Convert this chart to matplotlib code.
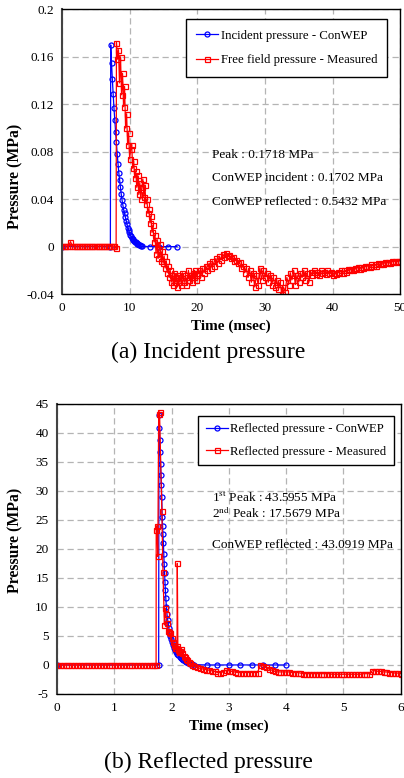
import numpy as np
import matplotlib
matplotlib.use("Agg")
import matplotlib.pyplot as plt

plt.rcParams['font.family'] = ['Liberation Serif', 'DejaVu Serif']
plt.rcParams['mathtext.fontset'] = 'stix'
plt.rcParams['axes.unicode_minus'] = False

# ---------------- (a) incident pressure data ----------------
# ConWEP incident (time in msec, pressure in MPa)
inc_cw_t = [0.0, 7.15] + list(np.linspace(7.2, 11.76, 39)) + [13.05, 14.3, 15.6, 17.0]
inc_cw_p = [0.0, 0.0,
            0.170, 0.155, 0.141, 0.129, 0.117, 0.107, 0.097, 0.088, 0.078, 0.070,
            0.062, 0.056, 0.050, 0.044, 0.039, 0.035, 0.031, 0.028, 0.025, 0.022,
            0.019, 0.016, 0.014, 0.012, 0.010, 0.0088, 0.0076, 0.0065, 0.0056, 0.0048,
            0.0041, 0.0035, 0.0030, 0.0025, 0.0020, 0.0015, 0.0010, 0.0006, 0.0003,
            0.0, 0.0, 0.0, 0.0]

# free field measured, before arrival (0 - 8 msec)
ff_pre_p = [0.0006, 0.0008, 0.0004, 0.0007, 0.0005, 0.0042, 0.0009, 0.0006,
            0.0004, 0.0007, 0.0005, 0.0008, 0.0003, 0.0006, 0.0004, 0.0007,
            0.0005, 0.0003, 0.0006, 0.0004, 0.0007, 0.0005, 0.0003, 0.0006,
            0.0004, 0.0007, 0.0005, 0.0003, 0.0006, 0.0004, 0.0005, 0.0003, -0.0015]
# arrival and decay (8.05 - 19.9 msec)
ff_mid_p = [0.172, 0.158, 0.166, 0.138, 0.160, 0.128, 0.146, 0.118, 0.135, 0.100,
            0.112, 0.086, 0.096, 0.074, 0.082, 0.086, 0.066, 0.072, 0.058, 0.064,
            0.050, 0.060, 0.044, 0.054, 0.040, 0.050, 0.057, 0.042, 0.052, 0.036,
            0.040, 0.028, 0.032, 0.020, 0.026, 0.012, 0.018, 0.004, 0.010, -0.006,
            0.006, -0.010, -0.002, 0.002, -0.012, -0.004, -0.014, -0.008, -0.018, -0.012,
            -0.022, -0.016, -0.026, -0.020, -0.030, -0.024, -0.032, -0.022, -0.030, -0.026,
            -0.034, -0.024, -0.030, -0.026, -0.032, -0.022, -0.028, -0.030, -0.024, -0.032,
            -0.026, -0.020, -0.028, -0.024, -0.030, -0.022, -0.026, -0.020, -0.028, -0.022]
# negative phase (20 - 50 msec)
ff_post_p = [-0.024, -0.020, -0.026, -0.018, -0.022, -0.016, -0.020, -0.014, -0.018, -0.012,
             -0.016, -0.010, -0.014, -0.008, -0.011, -0.006, -0.009, -0.005, -0.008, -0.007,
             -0.010, -0.009, -0.012, -0.011, -0.014, -0.013, -0.018, -0.016, -0.022, -0.018,
             -0.026, -0.020, -0.030, -0.022, -0.034, -0.024, -0.032, -0.018, -0.028, -0.020,
             -0.026, -0.022, -0.030, -0.024, -0.032, -0.026, -0.034, -0.028, -0.036, -0.030,
             -0.040, -0.034, -0.038, -0.026, -0.032, -0.022, -0.028, -0.020, -0.032, -0.024,
             -0.030, -0.022, -0.026, -0.020, -0.028, -0.022, -0.030, -0.021, -0.024, -0.020,
             -0.023, -0.021, -0.024, -0.020, -0.022, -0.021, -0.023, -0.020, -0.022, -0.021,
             -0.024, -0.022, -0.023, -0.021, -0.022, -0.020, -0.022, -0.020, -0.021, -0.019,
             -0.020, -0.019, -0.020, -0.018, -0.019, -0.017, -0.019, -0.017, -0.018, -0.016,
             -0.017, -0.016, -0.017, -0.015, -0.016, -0.015, -0.016, -0.014, -0.015, -0.014,
             -0.015, -0.013, -0.014, -0.013, -0.014, -0.012, -0.013, -0.012, -0.013, -0.012,
             -0.012]

ff_t = (list(np.linspace(0.0, 8.0, len(ff_pre_p)))
        + list(np.linspace(8.05, 19.9, len(ff_mid_p)))
        + list(np.linspace(20.0, 50.0, len(ff_post_p))))
ff_p = ff_pre_p + ff_mid_p + ff_post_p

# ---------------- (b) reflected pressure data ----------------
ref_cw_t = [0.0, 1.775, 1.78, 1.787, 1.794, 1.801, 1.808, 1.815, 1.822, 1.829, 1.836,
            1.843, 1.850, 1.857, 1.864, 1.871, 1.878, 1.885, 1.892, 1.899, 1.910,
            1.921, 1.932, 1.943, 1.954, 1.965, 1.98, 1.995, 2.01, 2.025, 2.04,
            2.06, 2.08, 2.10, 2.12, 2.14, 2.16, 2.18, 2.20, 2.23, 2.26,
            2.29, 2.32, 2.36, 2.40, 2.61, 2.80, 3.0, 3.2, 3.4, 3.6, 3.8, 4.0]
ref_cw_p = [0.0, 0.0, 43.09, 40.8, 38.8, 36.7, 34.6, 32.7, 31.0, 29.0, 25.5,
            24.0, 22.5, 21.0, 19.2, 17.4, 15.8, 14.3, 12.9, 11.6, 10.0,
            8.7, 7.8, 7.0, 6.3, 5.7, 5.0, 4.4, 3.9, 3.4, 3.0,
            2.6, 2.25, 1.95, 1.7, 1.45, 1.25, 1.05, 0.9, 0.7, 0.5,
            0.35, 0.25, 0.12, 0.05, 0.0, 0.0, 0.0, 0.0, 0.0, 0.0, 0.0, 0.0]

ref_pre_p = [0.0] * 35           # 0 - 1.7 msec
ref_hit_t = [1.73, 1.732, 1.745, 1.76, 1.775, 1.79, 1.83, 1.85, 1.875, 1.885,
             1.90, 1.92, 1.94, 1.96, 1.98, 2.00, 2.02, 2.04, 2.06, 2.08,
             2.095, 2.10, 2.11, 2.13, 2.15, 2.17, 2.19, 2.21, 2.23, 2.25,
             2.27, 2.30, 2.33]
ref_hit_p = [0.0, 23.3, 24.0, 18.7, 43.2, 43.6, 26.6, 16.1, 6.9, 9.8,
             8.8, 7.2, 5.9, 5.7, 5.5, 4.6, 4.0, 3.5, 3.0, 2.9,
             3.2, 17.5, 2.6, 2.2, 2.4, 2.7, 2.0, 1.6, 1.3, 1.0,
             0.8, 0.5, 0.3]
# 2.35 - 6.0 msec, every 0.05 msec
ref_post_p = [0.0, -0.2, -0.4, -0.6, -0.7, -0.8, -0.9, -1.0, -1.1, -1.3,
              -1.3, -1.2, -0.9, -1.0, -1.1, -1.2, -1.3, -1.3, -1.3, -1.3,
              -1.3, -1.3, -1.3, -1.3, 0.0, -0.2, -0.4, -0.7, -0.9, -1.1,
              -1.2, -1.2, -1.2, -1.2, -1.2, -1.3, -1.3, -1.3, -1.4, -1.5,
              -1.5, -1.5, -1.5, -1.5, -1.5, -1.5, -1.5, -1.5, -1.5, -1.6,
              -1.6, -1.6, -1.6, -1.6, -1.6, -1.6, -1.6, -1.6, -1.6, -1.6,
              -1.5, -1.5, -1.5,
              -1.0, -1.0, -1.1, -1.1, -1.2, -1.2, -1.3, -1.3, -1.4, -1.4, -1.5]

ref_t = (list(np.linspace(0.0, 1.7, len(ref_pre_p))) + ref_hit_t
         + list(np.linspace(2.35, 6.0, len(ref_post_p))))
ref_p = ref_pre_p + ref_hit_p + ref_post_p

# ---------------- plotting ----------------
fig = plt.figure(figsize=(4.04, 7.78), dpi=100)
ax1 = fig.add_axes([0.1535, 0.622, 0.837, 0.366])
ax2 = fig.add_axes([0.141, 0.108, 0.851, 0.373])

blue = '#0000ff'
red = '#ff0000'


def style(ax):
    ax.grid(True, color='#b4b4b4', linestyle=(0, (5, 3)), linewidth=0.9)
    ax.set_axisbelow(True)
    ax.tick_params(length=0, labelsize=9.5, pad=6)
    for s in ax.spines.values():
        s.set_linewidth(1.0)
        s.set_color('black')
    ax.spines['left'].set_color('#444444')
    ax.spines['left'].set_linewidth(1.5)
    ax.set_xlabel('Time (msec)', fontsize=11, fontweight='bold', labelpad=4)
    ax.set_ylabel('Pressure (MPa)', fontsize=11.3, fontweight='bold')


mk = dict(lw=0.9, ms=3.6, mfc='none', mew=0.9)

ax1.plot(inc_cw_t, inc_cw_p, color=blue, marker='o', label='Incident pressure - ConWEP', **mk)
ax1.plot(ff_t, ff_p, color=red, marker='s', label='Free field pressure - Measured', **mk)
ax1.set_xlim(0, 50)
ax1.set_ylim(-0.04, 0.2)
ax1.set_xticks([0, 10, 20, 30, 40, 50])
ax1.set_yticks([-0.04, 0, 0.04, 0.08, 0.12, 0.16, 0.2])
ax1.set_yticklabels(['-0.04', '0', '0.04', '0.08', '0.12', '0.16', '0.2'])
style(ax1)
ax1.yaxis.set_label_coords(-0.115, 0.415)
ax1.legend(loc='upper right', bbox_to_anchor=(0.962, 0.965), borderaxespad=0, fontsize=9.2,
           numpoints=1, handlelength=1.7, handletextpad=0.2, labelspacing=1.0, borderpad=0.8,
           fancybox=False, framealpha=1, edgecolor='black')
ax1.legend_.get_frame().set_linewidth(1.0)
ax1.text(0.444, 0.488, 'Peak : 0.1718 MPa', transform=ax1.transAxes, fontsize=9.5, va='center')
ax1.text(0.444, 0.407, 'ConWEP incident : 0.1702 MPa', transform=ax1.transAxes, fontsize=9.5, va='center')
ax1.text(0.444, 0.323, 'ConWEP reflected : 0.5432 MPa', transform=ax1.transAxes, fontsize=9.5, va='center')

ax2.plot(ref_cw_t, ref_cw_p, color=blue, marker='o', label='Reflected pressure - ConWEP', **mk)
ax2.plot(ref_t, ref_p, color=red, marker='s', label='Reflected pressure - Measured', **mk)
ax2.set_xlim(0, 6)
ax2.set_ylim(-5, 45)
ax2.set_xticks(range(0, 7))
ax2.set_yticks(range(-5, 46, 5))
style(ax2)
ax2.yaxis.set_label_coords(-0.099, 0.531)
ax2.legend(loc='upper right', bbox_to_anchor=(0.980, 0.959), borderaxespad=0, fontsize=9.2,
           numpoints=1, handlelength=1.7, handletextpad=0.2, labelspacing=0.8, borderpad=0.6,
           fancybox=False, framealpha=1, edgecolor='black')
ax2.legend_.get_frame().set_linewidth(1.0)
ax2.text(0.45, 0.676, '1$^{\\rm st}$ Peak : 43.5955 MPa', transform=ax2.transAxes, fontsize=9.5, va='center')
ax2.text(0.45, 0.624, '2$^{\\rm nd}$ Peak : 17.5679 MPa', transform=ax2.transAxes, fontsize=9.5, va='center')
ax2.text(0.45, 0.514, 'ConWEP reflected : 43.0919 MPa', transform=ax2.transAxes, fontsize=9.5, va='center')

fig.text(0.515, 1 - 352 / 778, '(a) Incident pressure', fontsize=17, ha='center', va='center')
fig.text(0.515, 1 - 762 / 778, '(b) Reflected pressure', fontsize=17, ha='center', va='center')

fig.savefig('out.png', dpi=100)
